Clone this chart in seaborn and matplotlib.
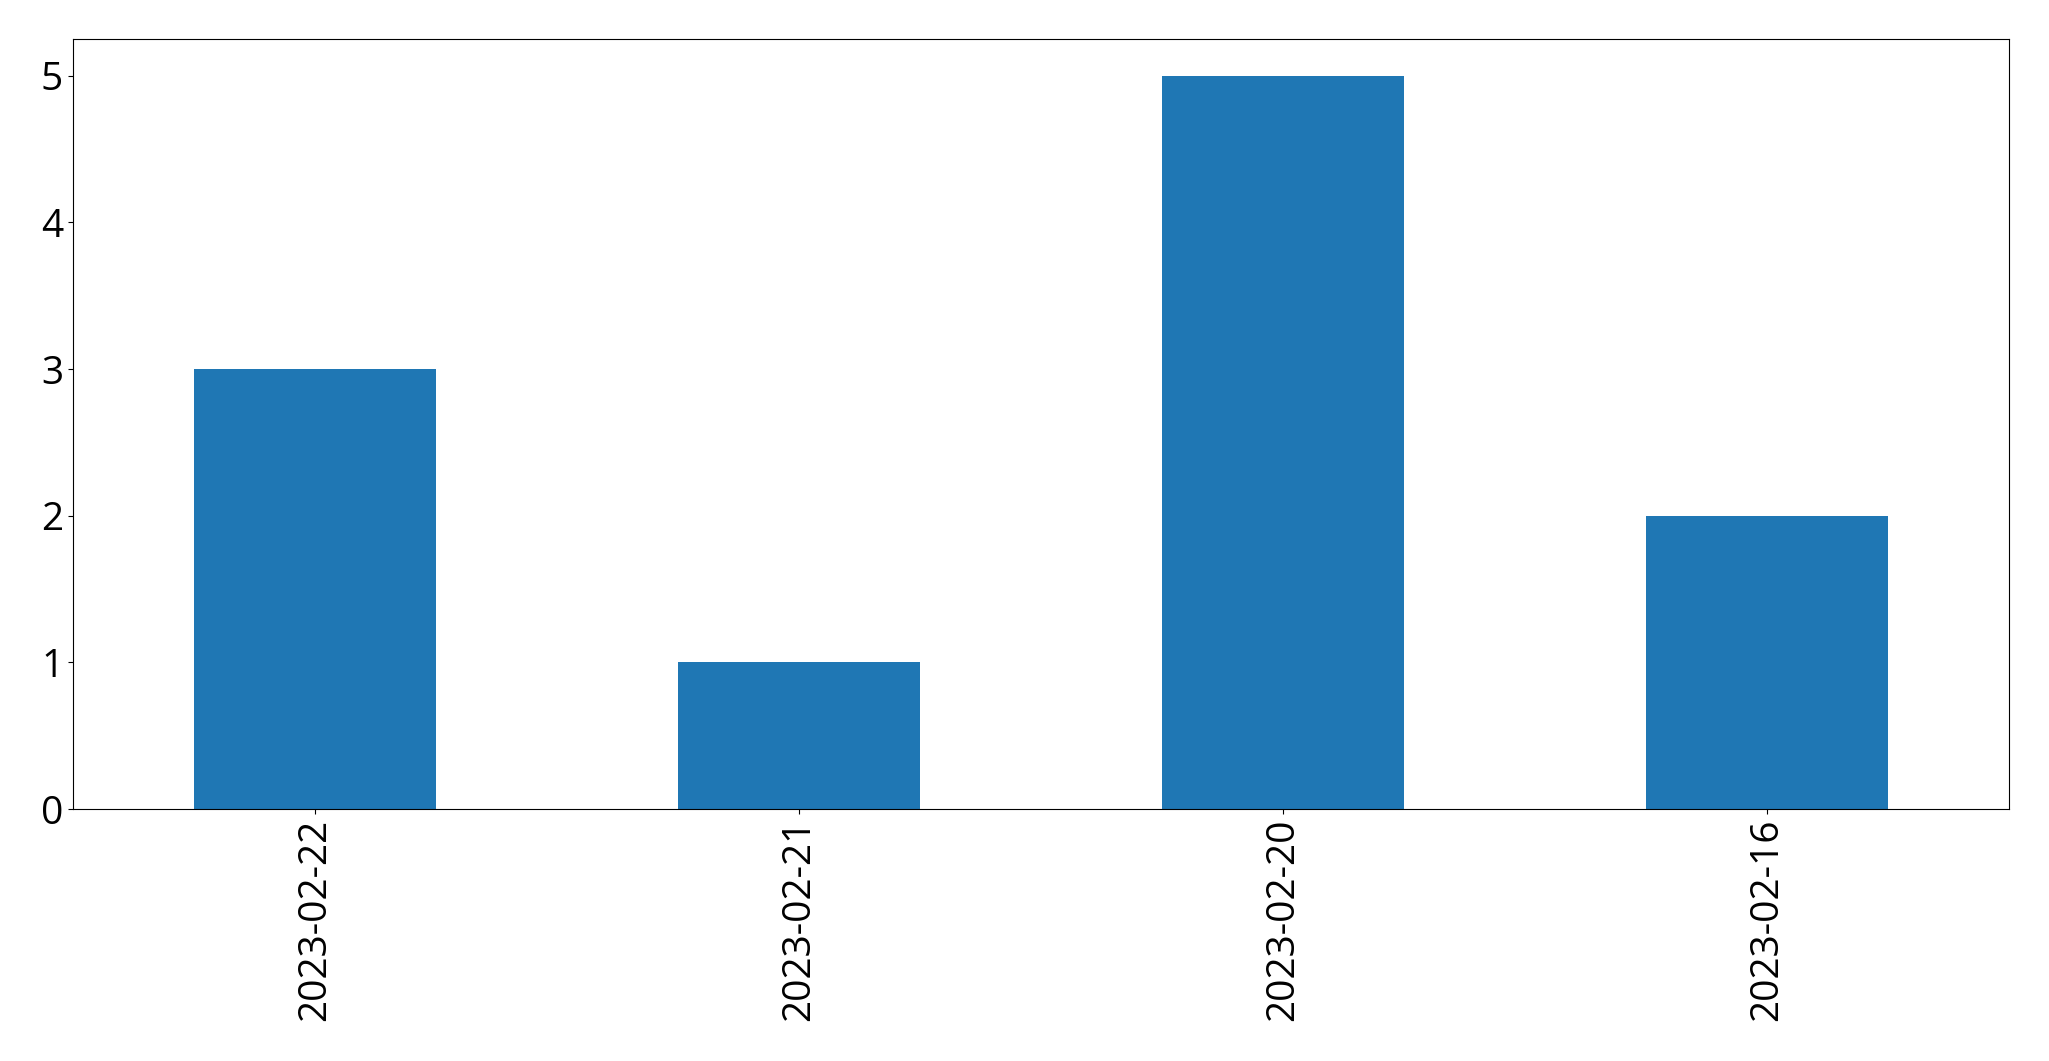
import matplotlib
matplotlib.use("Agg")
import matplotlib.pyplot as plt
import seaborn as sns
import pandas as pd

# values
dates = ["2023-02-22", "2023-02-21", "2023-02-20", "2023-02-16"]
counts = [3, 1, 5, 2]

plt.rcParams['font.family'] = ['Open Sans', 'DejaVu Sans']
plt.rcParams['font.size'] = 28

df = pd.DataFrame({"date": dates, "count": counts})

fig = plt.figure(figsize=(20.49, 10.61), dpi=100)
ax = fig.add_axes([0.0356, 0.2375, 0.9449, 0.7257])
sns.barplot(data=df, x="date", y="count", order=dates, color="#1f77b4",
            saturation=1, width=0.5, ax=ax)
ax.set_xlim(-0.5, len(dates) - 0.5)
ax.set_ylim(0, 5.25)
ax.set_xlabel("")
ax.set_ylabel("")
ax.tick_params(axis="x", labelrotation=90)
ax.tick_params(labelsize=28)
fig.savefig("out.png", dpi=100)
